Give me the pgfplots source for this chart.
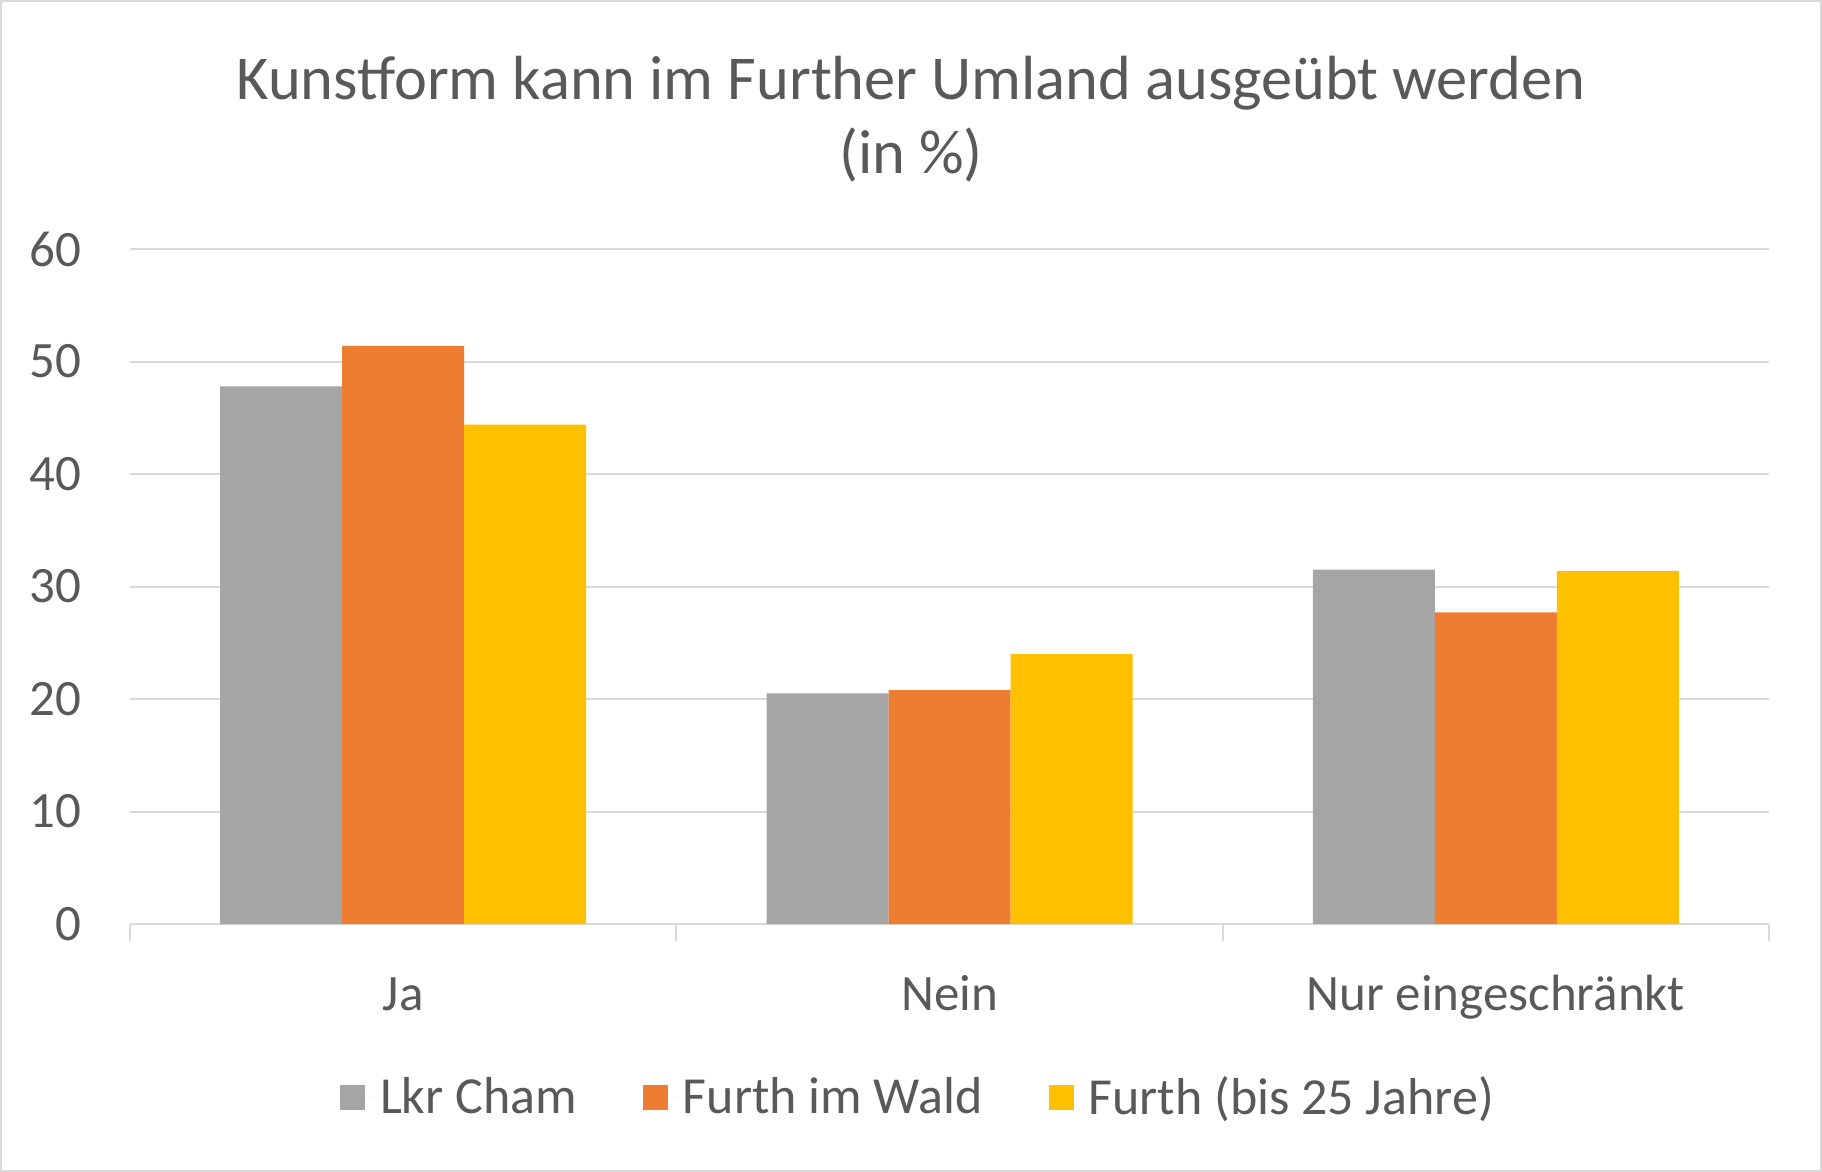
\documentclass[border=0pt]{standalone}
\usepackage{pgfplots}
\pgfplotsset{compat=1.18}
\usepackage{fontspec}
\setmainfont{Carlito}
\definecolor{txt}{HTML}{595959}
\definecolor{gridc}{HTML}{D9D9D9}
\definecolor{cgray}{HTML}{A5A5A5}
\definecolor{corange}{HTML}{ED7D31}
\definecolor{cyellow}{HTML}{FFC000}
\begin{document}
\begin{tikzpicture}
% frame of the whole chart (1822x1172 px at 0.5 bp per px)
\useasboundingbox (-65bp,-124bp) rectangle (846bp,462bp);
\draw[gridc, line width=1bp] (-64.5bp,-123.5bp) rectangle (845.5bp,461.5bp);
\begin{axis}[
    at={(0,0)}, anchor=south west,
    scale only axis,
    width=819.5bp, height=337.5bp,
    xmin=-0.5, xmax=2.5,
    ymin=0, ymax=60,
    ybar=0pt, bar width=61bp,
    axis x line*=bottom,
    axis y line*=left,
    y axis line style={draw=none},
    x axis line style={gridc, line width=1bp},
    xtick={0,1,2},
    xticklabels={Ja,Nein,Nur eingeschränkt},
    minor xtick={-0.5,0.5,1.5,2.5},
    major tick length=0pt,
    minor tick length=8.5bp,
    tick align=outside,
    minor tick style={gridc, line width=1bp},
    ytick={0,10,...,60},
    ytick style={draw=none},
    ymajorgrids,
    major grid style={gridc, line width=1bp},
    tick label style={font=\fontsize{25.5bp}{31bp}\selectfont, text=txt},
    /pgf/number format/assume math mode=true,
    yticklabel style={anchor=east, inner sep=0pt, xshift=-24bp},
    xticklabel style={anchor=base, inner sep=0pt, yshift=-43bp},
    legend columns=3,
    legend style={at={(0.4814,-0.2563)}, anchor=center, draw=none, fill=none,
        font=\fontsize{26bp}{31bp}\selectfont, text=txt,
        /tikz/every even column/.append style={column sep=31bp}},
    legend image code/.code={\fill[#1] (0bp,-6.25bp) rectangle (12.5bp,6.25bp);
        \path (0bp,0bp) -- (18bp,0bp);},
]
\addplot[fill=cgray, draw=none] coordinates {(0,47.8) (1,20.5) (2,31.5)};
\addplot[fill=corange, draw=none] coordinates {(0,51.4) (1,20.8) (2,27.7)};
\addplot[fill=cyellow, draw=none] coordinates {(0,44.4) (1,24.0) (2,31.4)};
\legend{Lkr Cham, Furth im Wald, Furth (bis 25 Jahre)}
\end{axis}
\node[anchor=base, text=txt, font=\fontsize{31.2bp}{38bp}\selectfont, inner sep=0pt]
    at (390.5bp,412bp) {Kunstform kann im Further Umland ausgeübt werden};
\node[anchor=base, text=txt, font=\fontsize{31.2bp}{38bp}\selectfont, inner sep=0pt]
    at (390.5bp,375bp) {(in \%)};
\end{tikzpicture}
\end{document}
